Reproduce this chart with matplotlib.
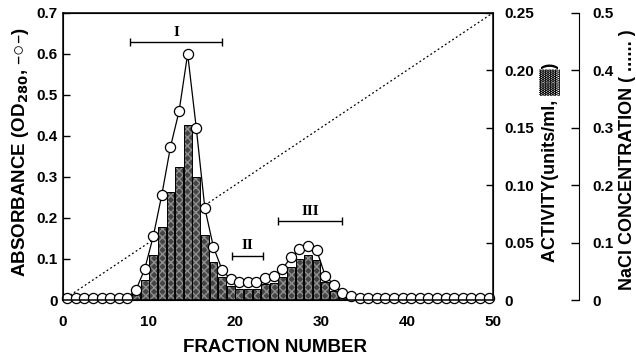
import numpy as np
import matplotlib.pyplot as plt

plt.rcParams['font.family'] = ['Liberation Sans', 'DejaVu Sans']
plt.rcParams['font.weight'] = 'bold'

# fraction numbers 1..50
fractions = np.arange(1, 51)

# absorbance at 280 nm (left axis, open circles)
absorbance = [0.005] * 8 + [
    0.025, 0.075, 0.155, 0.257, 0.373, 0.46, 0.60, 0.42, 0.224, 0.129,
    0.074, 0.050, 0.045, 0.045, 0.045, 0.054, 0.059, 0.075, 0.104, 0.124,
    0.132, 0.122, 0.059, 0.037, 0.016, 0.010,
] + [0.006] * 16

# activity units/ml (right axis, bars)
activity = [0.0] * 8 + [
    0.007, 0.0175, 0.039, 0.064, 0.094, 0.116, 0.152, 0.107, 0.057, 0.033,
    0.020, 0.012, 0.0095, 0.0095, 0.0095, 0.014, 0.015, 0.020, 0.029, 0.036,
    0.039, 0.035, 0.016, 0.008, 0.003,
] + [0.0] * 17

# NaCl gradient (third axis, dotted line)
nacl_x = [0, 50]
nacl_y = [0.0, 0.5]

# pooled fractions
pool_names = ['I', 'II', 'III']
pool_start = [7.8, 19.7, 25.0]
pool_end = [18.5, 23.3, 32.5]
pool_level = [0.628, 0.108, 0.193]

fig = plt.figure(figsize=(6.36, 3.58), dpi=100)
ax = fig.add_subplot(111)
fig.subplots_adjust(left=0.099, right=0.775, bottom=0.162, top=0.964)

ax2 = ax.twinx()
ax3 = ax.twinx()

# stacking: NaCl line at the back, bars, then circles on top
ax3.set_zorder(1)
ax2.set_zorder(2)
ax.set_zorder(3)
ax.patch.set_visible(False)
ax2.patch.set_visible(False)

xpos = fractions - 0.5

# NaCl
ax3.plot(nacl_x, nacl_y, color='black', lw=0.9, ls=(0, (1.5, 2)))
ax3.set_ylim(0, 0.5)
ax3.spines['right'].set_position(('axes', 1.2))
for s in ['top', 'left', 'bottom']:
    ax3.spines[s].set_visible(False)
ax3.set_yticks([0, 0.1, 0.2, 0.3, 0.4, 0.5])
ax3.set_yticklabels(['0', '0.1', '0.2', '0.3', '0.4', '0.5'])
ax3.tick_params(axis='y', direction='in', length=6, width=1, pad=10, labelsize=11)

# activity bars
ax2.bar(xpos, activity, width=0.9, color='#444444', edgecolor='#8f8f8f', hatch='xxxx', lw=0)
ax2.bar(xpos, activity, width=0.9, fill=False, edgecolor='black', lw=0.7)
ax2.set_ylim(0, 0.25)
ax2.set_yticks([0, 0.05, 0.10, 0.15, 0.20, 0.25])
ax2.set_yticklabels(['0', '0.05', '0.10', '0.15', '0.20', '0.25'])
ax2.tick_params(axis='y', direction='in', length=5, width=1, pad=8, labelsize=11)

# absorbance
ax.plot(xpos, absorbance, color='black', lw=0.9, marker='o', ms=7.3,
        mfc='white', mec='black', mew=0.9, clip_on=False)
ax.set_xlim(0, 50)
ax.set_ylim(0, 0.7)
ax.set_xticks([0, 10, 20, 30, 40, 50])
ax.set_yticks([0, 0.1, 0.2, 0.3, 0.4, 0.5, 0.6, 0.7])
ax.set_yticklabels(['0', '0.1', '0.2', '0.3', '0.4', '0.5', '0.6', '0.7'])
ax.tick_params(axis='y', direction='in', length=5, width=1, pad=4, labelsize=11)
ax.tick_params(axis='x', direction='in', length=0, pad=11, labelsize=11)
for s in ax.spines.values():
    s.set_linewidth(1.1)

# pooled fraction markers
for name, a, b, lev in zip(pool_names, pool_start, pool_end, pool_level):
    mid = (a + b) / 2
    ax.errorbar(mid, lev, xerr=(b - a) / 2, fmt='none', ecolor='black',
                elinewidth=1, capsize=3, capthick=1)
    ax.text(mid, lev + 0.008, name, ha='center', va='bottom', fontsize=11,
            family='Liberation Serif', fontweight='bold')

fig.text(21 / 636, 1 - 152 / 358, 'ABSORBANCE (OD$_{\\mathbf{280}}$, \u2013\u25cb\u2013)',
         rotation=90, ha='center', va='center', fontsize=13.5, fontweight='bold')
fig.text(551 / 636, 1 - 162 / 358, 'ACTIVITY(units/ml, \u2593\u2593)',
         rotation=90, ha='center', va='center', fontsize=13, fontweight='bold')
fig.text(627 / 636, 1 - 160 / 358, 'NaCl CONCENTRATION ( ...... )',
         rotation=90, ha='center', va='center', fontsize=13, fontweight='bold')
fig.text(275 / 636, 1 - 347 / 358, 'FRACTION NUMBER',
         ha='center', va='center', fontsize=13.5, fontweight='bold')

plt.savefig('out.png', dpi=100)
